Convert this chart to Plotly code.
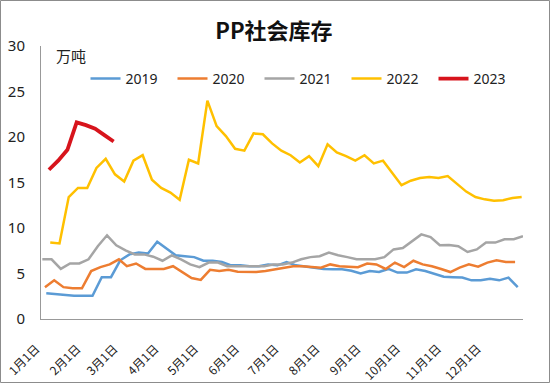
import plotly.graph_objects as go
import pandas as pd

title_text = "PP社会库存"
unit_text = "万吨"

tick_dates = ["2021-01-01", "2021-02-01", "2021-03-01", "2021-04-01", "2021-05-01", "2021-06-01",
              "2021-07-01", "2021-08-01", "2021-09-01", "2021-10-01", "2021-11-01", "2021-12-01"]
tick_labels = ["1月1日", "2月1日", "3月1日", "4月1日", "5月1日", "6月1日",
               "7月1日", "8月1日", "9月1日", "10月1日", "11月1日", "12月1日"]

start_2019 = "2019-01-04"
v2019 = [2.82, 2.71, 2.64, 2.56, 2.56, 2.56, 4.6, 4.6, 6.45, 7.1, 7.3, 7.2, 8.5, 7.8, 7.0, 6.9,
         6.8, 6.4, 6.4, 6.26, 5.9, 5.9, 5.8, 5.8, 6.0, 5.9, 6.26,
         5.9, 5.75, 5.64, 5.5, 5.46, 5.46, 5.3, 5.0, 5.27, 5.16, 5.5, 5.1, 5.1, 5.46, 5.27, 5.0,
         4.65, 4.6, 4.55, 4.25, 4.25, 4.43, 4.25, 4.55, 3.5]

start_2020 = "2020-01-03"
v2020 = [3.5, 4.25, 3.5, 3.37, 3.37, 5.27, 5.7, 6.0, 6.56, 5.8, 6.1, 5.5, 5.5, 5.5, 5.8, 5.16,
         4.5, 4.3, 5.4, 5.27, 5.4, 5.2, 5.2, 5.16, 5.27, 5.46, 5.64, 5.8,
         5.8, 5.7, 5.64, 6.0, 5.8, 5.75, 5.7, 6.1, 6.0, 5.5, 6.2, 5.7, 6.4, 6.0, 5.8, 5.5,
         5.16, 5.64, 6.0, 5.75, 6.2, 6.45, 6.26, 6.26]

start_2021 = "2021-01-01"
v2021 = [6.56, 6.56, 5.5, 6.1, 6.1, 6.56, 8.0, 9.2, 8.1, 7.55, 7.1, 7.1, 6.85, 6.4, 7.0, 6.56,
         6.0, 5.7, 6.2, 6.2, 5.8, 5.8, 5.8, 5.8, 5.8, 6.0, 6.0, 6.2,
         6.56, 6.8, 6.9, 7.3, 7.0, 6.8, 6.56, 6.56, 6.56, 6.8, 7.65, 7.8, 8.6, 9.3, 9.0, 8.1,
         8.13, 8.0, 7.36, 7.65, 8.4, 8.4, 8.76, 8.76, 9.1]

start_2022 = "2022-01-07"
v2022 = [8.4, 8.3, 13.4, 14.4, 14.4, 16.6, 17.6, 15.9, 15.1, 17.4, 18.0, 15.3, 14.4, 13.9, 13.1,
         17.5, 17.1, 24.0, 21.2, 20.1, 18.7, 18.5, 20.4, 20.3, 19.3, 18.5, 18.0, 17.2, 17.9, 16.8,
         19.2, 18.3, 17.9, 17.4, 18.0, 17.1, 17.4, 16.1, 14.7, 15.2, 15.5, 15.6, 15.5, 15.7, 14.8,
         14.0, 13.4, 13.15, 13.0, 13.05, 13.3, 13.4]

start_2023 = "2023-01-06"
v2023 = [16.4, 17.4, 18.6, 21.6, 21.3, 20.9, 20.2, 19.5]

series = [
    ("2019", start_2019, v2019, "#5B9BD5", 2.5),
    ("2020", start_2020, v2020, "#ED7D31", 2.5),
    ("2021", start_2021, v2021, "#A5A5A5", 2.5),
    ("2022", start_2022, v2022, "#FFC000", 2.5),
    ("2023", start_2023, v2023, "#D7141C", 3.8),
]

fig = go.Figure()
for name, start, vals, color, w in series:
    d = pd.date_range(start, periods=len(vals), freq="7D")
    d = [x.replace(year=2021) for x in d]
    fig.add_trace(go.Scatter(x=d, y=vals, mode="lines", name=name,
                             line=dict(color=color, width=w)))

L, R, T, B = 41, 27, 46, 64
W, H = 550, 383
pw, ph = W - L - R, H - T - B

fig.update_layout(
    width=W, height=H,
    margin=dict(l=L, r=R, t=T, b=B),
    paper_bgcolor="white", plot_bgcolor="white",
    font=dict(family="Noto Sans CJK SC", color="#222"),
    title=dict(text="<b>" + title_text + "</b>", x=0.498, xanchor="center",
               y=1 - 31 / H, yanchor="middle", font=dict(size=22, color="#111")),
    legend=dict(orientation="h", x=(303 - L) / pw, xanchor="center",
                y=(H - B - 79) / ph, yanchor="middle",
                font=dict(size=14, family="Noto Sans", color="#222"),
                entrywidth=42, bgcolor="rgba(0,0,0,0)"),
    showlegend=True,
)
fig.update_xaxes(type="date", range=["2020-12-31", "2021-12-31"], automargin=False,
                 tickvals=tick_dates, ticktext=tick_labels, tickangle=-45,
                 showgrid=False, zeroline=False, showline=True, linecolor="#999", linewidth=1,
                 ticks="", tickfont=dict(size=12, color="#222"),
                 ticklabelstandoff=17, ticklabelshift=-6)
fig.update_yaxes(range=[0, 30], dtick=5, showgrid=False, zeroline=False, automargin=False,
                 showline=True, linecolor="#999", linewidth=1, ticks="",
                 tickfont=dict(size=15, family="Noto Sans", color="#222"), ticklabelstandoff=12)

fig.add_annotation(text=unit_text, xref="paper", yref="paper",
                   x=(54 - L) / pw, y=(H - B - 56) / ph, xanchor="left", yanchor="middle",
                   showarrow=False, font=dict(size=15, color="#222"))

fig.add_shape(type="rect", xref="paper", yref="paper",
              x0=(0.5 - L) / pw, x1=(W - 0.5 - L) / pw,
              y0=(H - B - (H - 0.5)) / ph, y1=(H - B - 0.5) / ph,
              line=dict(color="#8c8c8c", width=1), fillcolor="rgba(0,0,0,0)", layer="below")

fig.write_html("out.html", config={"displayModeBar": False},
               post_script="document.body.style.margin='0';")
